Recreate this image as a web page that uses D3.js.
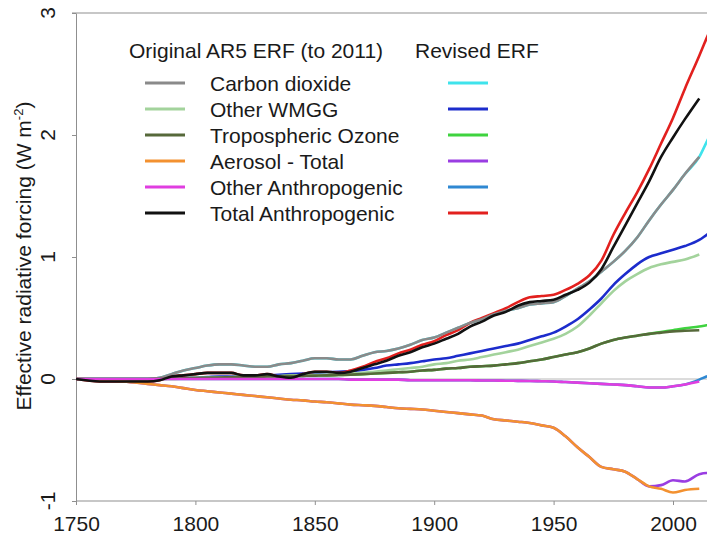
<!DOCTYPE html>
<html>
<head>
<meta charset="utf-8">
<script src="https://cdn.jsdelivr.net/npm/d3@7"></script>
<style>
  body { margin: 0; background: #fff; }
  svg { display: block; font-family: Arial, "Liberation Sans", sans-serif; }
  .axis text { font-size: 21px; fill: #1a1a1a; }
  .axis path, .axis line { stroke: #8f8f8f; }
  .legText { font-size: 21px; fill: #1a1a1a; }
  .yLabel { font-size: 21px; fill: #1a1a1a; }
</style>
</head>
<body>
<div id="chart"></div>
<script>
var years = [1750, 1760, 1770, 1780, 1785, 1790, 1795, 1800, 1805, 1810, 1815, 1820, 1825, 1830,
  1835, 1840, 1845, 1850, 1855, 1860, 1865, 1870, 1875, 1880, 1885, 1890, 1895, 1900, 1905, 1910,
  1915, 1920, 1925, 1930, 1935, 1940, 1945, 1950, 1955, 1960, 1965, 1970, 1975, 1980, 1985, 1990,
  1995, 2000, 2005, 2011];
var yearsRev = years.concat([2014, 2017]);

// AR5 ERF (to 2011)
var co2 = [0, 0, 0, 0, 0.01, 0.04, 0.07, 0.09, 0.11, 0.12, 0.12, 0.11, 0.10, 0.10,
  0.12, 0.13, 0.15, 0.17, 0.17, 0.16, 0.16, 0.19, 0.22, 0.23, 0.25, 0.28, 0.32, 0.34, 0.38, 0.42,
  0.46, 0.49, 0.53, 0.56, 0.58, 0.61, 0.62, 0.63, 0.68, 0.74, 0.80, 0.88, 0.96, 1.05, 1.16, 1.30,
  1.43, 1.55, 1.68, 1.82];
var wmgg = [0, 0, 0, 0, 0, 0, 0.005, 0.01, 0.01, 0.01, 0.015, 0.02, 0.02, 0.02,
  0.025, 0.03, 0.03, 0.035, 0.035, 0.04, 0.045, 0.05, 0.06, 0.07, 0.08, 0.09, 0.10, 0.12, 0.13, 0.15,
  0.16, 0.18, 0.20, 0.22, 0.24, 0.27, 0.30, 0.33, 0.37, 0.43, 0.52, 0.62, 0.72, 0.80, 0.86, 0.91,
  0.94, 0.96, 0.98, 1.02];
var ozone = [0, 0, 0, 0, 0.002, 0.004, 0.006, 0.008, 0.01, 0.012, 0.014, 0.016, 0.018, 0.02,
  0.022, 0.024, 0.026, 0.028, 0.03, 0.033, 0.036, 0.04, 0.045, 0.05, 0.055, 0.06, 0.07, 0.075, 0.085, 0.09,
  0.10, 0.105, 0.11, 0.12, 0.13, 0.145, 0.16, 0.18, 0.20, 0.22, 0.25, 0.29, 0.32, 0.34, 0.355, 0.37,
  0.38, 0.39, 0.395, 0.40];
var aerosol = [0, -0.005, -0.02, -0.04, -0.05, -0.06, -0.075, -0.09, -0.10, -0.11, -0.12, -0.13, -0.14, -0.15,
  -0.16, -0.17, -0.175, -0.185, -0.19, -0.20, -0.21, -0.215, -0.22, -0.23, -0.24, -0.245, -0.25, -0.26, -0.27, -0.28,
  -0.29, -0.30, -0.33, -0.34, -0.35, -0.36, -0.38, -0.40, -0.47, -0.56, -0.64, -0.72, -0.74, -0.76, -0.82, -0.88,
  -0.90, -0.93, -0.91, -0.90];
var otherAnth = [0, 0, 0, 0, 0, 0, 0, 0, 0, 0, 0, 0, 0, 0,
  0, 0, 0, 0, 0, 0, -0.005, -0.005, -0.005, -0.005, -0.005, -0.01, -0.01, -0.01, -0.01, -0.01,
  -0.01, -0.012, -0.012, -0.014, -0.015, -0.016, -0.018, -0.02, -0.025, -0.03, -0.035, -0.04, -0.045, -0.05, -0.06, -0.07,
  -0.07, -0.06, -0.045, -0.02];
var total = [0, -0.02, -0.02, -0.02, -0.01, 0.02, 0.03, 0.04, 0.05, 0.05, 0.05, 0.03, 0.03, 0.04,
  0.02, 0.01, 0.04, 0.06, 0.06, 0.05, 0.06, 0.09, 0.12, 0.15, 0.19, 0.22, 0.26, 0.29, 0.33, 0.37,
  0.43, 0.47, 0.52, 0.55, 0.60, 0.63, 0.64, 0.65, 0.69, 0.73, 0.79, 0.90, 1.08, 1.26, 1.44, 1.62,
  1.82, 1.98, 2.13, 2.30];

// Revised ERF
var co2Rev = [0, 0, 0, 0, 0.01, 0.04, 0.07, 0.09, 0.11, 0.12, 0.12, 0.11, 0.10, 0.10,
  0.12, 0.13, 0.15, 0.17, 0.17, 0.16, 0.16, 0.19, 0.22, 0.23, 0.25, 0.28, 0.32, 0.34, 0.38, 0.42,
  0.46, 0.49, 0.53, 0.56, 0.58, 0.61, 0.62, 0.63, 0.68, 0.74, 0.80, 0.88, 0.96, 1.05, 1.16, 1.30,
  1.43, 1.55, 1.68, 1.82, 1.94, 2.06];
var wmggRev = [0, 0, 0, 0, 0, 0.005, 0.01, 0.01, 0.015, 0.02, 0.02, 0.025, 0.03, 0.03,
  0.035, 0.04, 0.045, 0.05, 0.055, 0.06, 0.065, 0.075, 0.09, 0.11, 0.12, 0.13, 0.145, 0.16, 0.17, 0.19,
  0.21, 0.23, 0.25, 0.27, 0.29, 0.32, 0.35, 0.38, 0.43, 0.49, 0.57, 0.66, 0.77, 0.86, 0.94, 1.00,
  1.03, 1.06, 1.09, 1.14, 1.18, 1.22];
var ozoneRev = [0, 0, 0, 0, 0.002, 0.004, 0.006, 0.008, 0.01, 0.012, 0.014, 0.016, 0.018, 0.02,
  0.022, 0.024, 0.026, 0.028, 0.03, 0.033, 0.036, 0.04, 0.045, 0.05, 0.055, 0.06, 0.07, 0.075, 0.085, 0.09,
  0.10, 0.105, 0.11, 0.12, 0.13, 0.145, 0.16, 0.18, 0.20, 0.22, 0.25, 0.29, 0.32, 0.34, 0.355, 0.37,
  0.385, 0.40, 0.415, 0.43, 0.44, 0.45];
var aerosolRev = [0, -0.005, -0.02, -0.04, -0.05, -0.06, -0.075, -0.09, -0.10, -0.11, -0.12, -0.13, -0.14, -0.15,
  -0.16, -0.17, -0.175, -0.185, -0.19, -0.20, -0.21, -0.215, -0.22, -0.23, -0.24, -0.245, -0.25, -0.26, -0.27, -0.28,
  -0.29, -0.30, -0.33, -0.34, -0.35, -0.36, -0.38, -0.40, -0.47, -0.56, -0.64, -0.72, -0.74, -0.76, -0.82, -0.88,
  -0.87, -0.83, -0.84, -0.78, -0.77, -0.77];
var otherAnthRev = [0, 0, 0, 0, 0, 0, 0, 0, 0, 0, 0, 0, 0, 0,
  0, 0, 0, 0, 0, 0, -0.005, -0.005, -0.005, -0.005, -0.005, -0.01, -0.01, -0.01, -0.01, -0.01,
  -0.01, -0.012, -0.012, -0.014, -0.015, -0.016, -0.018, -0.02, -0.025, -0.03, -0.035, -0.04, -0.045, -0.05, -0.06, -0.07,
  -0.07, -0.06, -0.045, -0.005, 0.02, 0.04];
var totalRev = [0, -0.02, -0.02, -0.02, -0.01, 0.02, 0.03, 0.04, 0.05, 0.05, 0.05, 0.03, 0.03, 0.04,
  0.02, 0.01, 0.04, 0.06, 0.06, 0.05, 0.07, 0.10, 0.14, 0.17, 0.21, 0.24, 0.28, 0.31, 0.36, 0.40,
  0.46, 0.50, 0.54, 0.58, 0.63, 0.67, 0.68, 0.69, 0.73, 0.78, 0.85, 0.97, 1.18, 1.36, 1.53, 1.72,
  1.93, 2.14, 2.38, 2.65, 2.79, 2.93];

var names = ["Carbon dioxide", "Other WMGG", "Tropospheric Ozone", "Aerosol - Total",
  "Other Anthropogenic", "Total Anthropogenic"];
var ar5Colors = ["#8a8a8a", "#a3d39c", "#56693a", "#f39130", "#e03ee0", "#111111"];
var revColors = ["#3fe3ec", "#1c2ccc", "#3fd33f", "#9a3de2", "#2f88d2", "#e2201e"];
var ar5Values = [co2, wmgg, ozone, aerosol, otherAnth, total];
var revValues = [co2Rev, wmggRev, ozoneRev, aerosolRev, otherAnthRev, totalRev];
var xTicks = [1750, 1800, 1850, 1900, 1950, 2000];
var yTicks = [-1, 0, 1, 2, 3];

var w = 707;
var h = 540;

var svg = d3
  .select("#chart")
  .append("svg")
  .attr("width", w)
  .attr("height", h);

var xScale = d3.scaleLinear().domain([1750, 2000]).range([76, 673]);
var yScale = d3.scaleLinear().domain([-1, 3]).range([501, 13]);

svg.append("defs")
  .append("clipPath")
  .attr("id", "plotClip")
  .append("rect")
  .attr("x", 76)
  .attr("y", 0)
  .attr("width", w - 76)
  .attr("height", yScale(-1));

// frame lines
svg.append("line")
  .attr("x1", 72).attr("x2", w)
  .attr("y1", yScale(3)).attr("y2", yScale(3))
  .attr("stroke", "#8f8f8f");
svg.append("line")
  .attr("x1", 76).attr("x2", w)
  .attr("y1", yScale(0)).attr("y2", yScale(0))
  .attr("stroke", "#b8b8b8");

var xAxis = d3.axisBottom(xScale).tickValues(xTicks).tickSize(4).tickSizeOuter(0).tickFormat(d3.format("d"));
var yAxis = d3.axisLeft(yScale).tickValues(yTicks).tickSize(4).tickSizeOuter(0).tickFormat("");

var gx = svg.append("g")
  .attr("class", "axis")
  .attr("transform", "translate(0," + yScale(-1) + ")")
  .call(xAxis);
gx.select(".domain").remove();
gx.append("line")
  .attr("x1", 76).attr("x2", w)
  .attr("y1", 0).attr("y2", 0)
  .attr("stroke", "#8f8f8f");
gx.selectAll(".tick text").attr("y", 30).attr("dy", 0);

svg.append("g")
  .attr("class", "axis")
  .attr("transform", "translate(76,0)")
  .call(yAxis);

// rotated y tick labels
svg.append("g")
  .selectAll("text")
  .data(yTicks)
  .enter()
  .append("text")
  .attr("class", "yLabel")
  .attr("text-anchor", "middle")
  .attr("transform", function(d) {
    return "translate(55," + yScale(d) + ")rotate(-90)";
  })
  .text(function(d) { return d < 0 ? "-" + Math.abs(d) : d; });

var yTitle = svg.append("text")
  .attr("transform", "translate(31,256)rotate(-90)")
  .attr("text-anchor", "middle")
  .attr("font-size", 21)
  .attr("fill", "#1a1a1a")
  .text("Effective radiative forcing (W m");
yTitle.append("tspan").attr("font-size", 13).attr("dy", -8).text("-2");
yTitle.append("tspan").attr("dy", 8).text(")");

var line = d3.line()
  .x(function(d) { return xScale(d[0]); })
  .y(function(d) { return yScale(d[1]); })
  .curve(d3.curveMonotoneX);

var plot = svg.append("g").attr("clip-path", "url(#plotClip)");

revValues.forEach(function(vals, i) {
  plot.append("path")
    .datum(d3.zip(yearsRev, vals))
    .attr("fill", "none")
    .attr("stroke", revColors[i])
    .attr("stroke-width", 2.6)
    .attr("d", line);
});
ar5Values.forEach(function(vals, i) {
  plot.append("path")
    .datum(d3.zip(years, vals))
    .attr("fill", "none")
    .attr("stroke", ar5Colors[i])
    .attr("stroke-width", 2.6)
    .attr("d", line);
});

// legend
var leg = svg.append("g");
leg.append("text").attr("class", "legText").attr("x", 129).attr("y", 58).text("Original AR5 ERF (to 2011)");
leg.append("text").attr("class", "legText").attr("x", 415).attr("y", 58).text("Revised ERF");

names.forEach(function(n, i) {
  var ly = 83 + i * 26;
  leg.append("line")
    .attr("x1", 145).attr("x2", 185).attr("y1", ly).attr("y2", ly)
    .attr("stroke", ar5Colors[i]).attr("stroke-width", 3);
  leg.append("line")
    .attr("x1", 448).attr("x2", 488).attr("y1", ly).attr("y2", ly)
    .attr("stroke", revColors[i]).attr("stroke-width", 3);
  leg.append("text").attr("class", "legText").attr("x", 210).attr("y", ly + 8).text(n);
});
</script>
</body>
</html>
